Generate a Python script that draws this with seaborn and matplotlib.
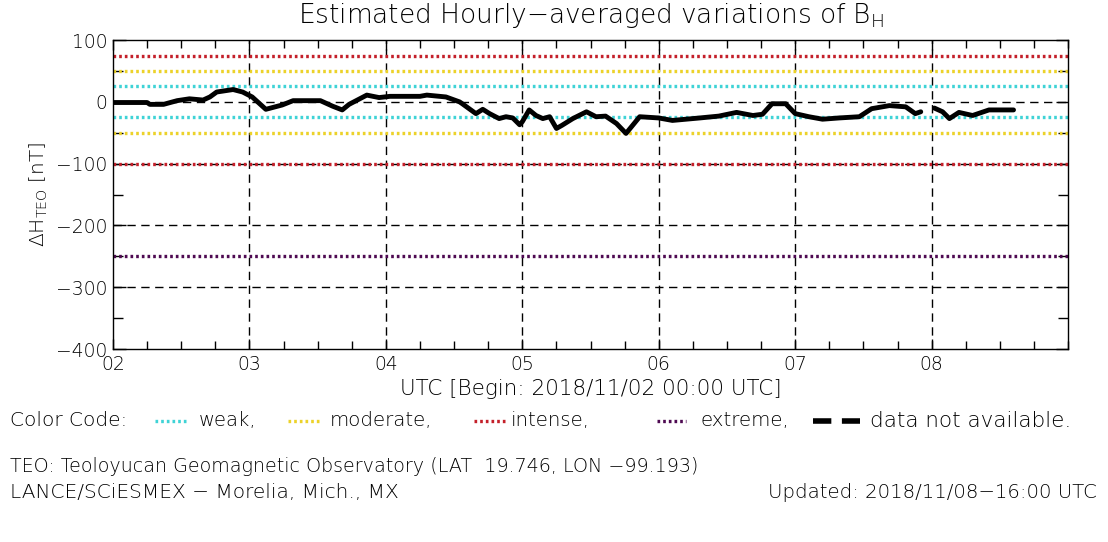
import matplotlib
matplotlib.use("Agg")
import matplotlib.pyplot as plt
from matplotlib.lines import Line2D
from matplotlib.ticker import MultipleLocator, FixedLocator
import pandas as pd
import seaborn as sns

# time in days of November 2018 (UTC), hourly-averaged Delta H at TEO [nT]
day_a = [2.00, 2.25, 2.27, 2.37, 2.47, 2.56, 2.66, 2.71, 2.76, 2.88, 2.95, 3.02,
         3.12, 3.24, 3.32, 3.52, 3.61, 3.68, 3.73, 3.86, 3.95, 4.03, 4.25, 4.30,
         4.44, 4.54, 4.56, 4.66, 4.71, 4.76, 4.83, 4.88, 4.93, 4.98, 5.00, 5.05,
         5.10, 5.15, 5.20, 5.25, 5.29, 5.37, 5.47, 5.54, 5.61, 5.69, 5.76, 5.86,
         6.00, 6.10, 6.30, 6.44, 6.57, 6.69, 6.76, 6.83, 6.93, 7.00, 7.10, 7.20,
         7.32, 7.47, 7.56, 7.69, 7.81, 7.88, 7.92]
dh_a = [-1, -1, -4, -4, 2, 5, 3, 8, 16, 20, 16, 8,
        -12, -5, 2, 2, -7, -13, -4, 11, 7, 9, 9, 11,
        8, 0, -3, -19, -12, -19, -27, -24, -26, -37, -32, -13,
        -22, -27, -24, -43, -38, -27, -16, -24, -23, -35, -51, -24,
        -26, -30, -26, -23, -17, -22, -20, -3, -3, -19, -24, -28,
        -26, -24, -11, -6, -8, -19, -16]
# after the data gap
day_b = [8.02, 8.08, 8.13, 8.20, 8.30, 8.42, 8.60]
dh_b = [-10, -16, -27, -17, -22, -13, -13]

# storm level thresholds
level_values = [25, -25, 50, -50, 75, -100, -250]
level_names = ["weak", "weak", "moderate", "moderate", "intense", "intense", "extreme"]
level_colors = {"weak": "#3fd3d6", "moderate": "#ecd22a", "intense": "#c4202a", "extreme": "#4e0a52"}

day_ticks = [2, 3, 4, 5, 6, 7, 8]
day_labels = ["02", "03", "04", "05", "06", "07", "08"]

df = pd.DataFrame({
    "day": day_a + day_b,
    "dh": dh_a + dh_b,
    "segment": [0] * len(day_a) + [1] * len(day_b),
})

sns.set_style("ticks")
plt.rcParams["font.family"] = ["DejaVu Sans"]
plt.rcParams["font.weight"] = "light"
plt.rcParams["text.color"] = "black"
plt.rcParams["axes.labelcolor"] = "black"
plt.rcParams["axes.titleweight"] = "light"
plt.rcParams["axes.labelweight"] = "light"

fig = plt.figure(figsize=(11.08, 5.42), dpi=100)
ax = fig.add_axes([0.102, 0.356, 0.862, 0.570])

dots = (0, (0.8, 0.9))
for val, name in zip(level_values, level_names):
    ax.axhline(val, color=level_colors[name], lw=2.4, ls=dots, zorder=1)

grid_kw = dict(color="black", lw=1, ls=(0, (6, 4)), zorder=0.5)
for yv in [0, -100, -200, -300]:
    ax.axhline(yv, **grid_kw)
for xv in day_ticks[1:]:
    ax.axvline(xv, **grid_kw)

sns.lineplot(data=df, x="day", y="dh", units="segment", estimator=None,
             color="black", lw=3.5, ax=ax, zorder=3, sort=False)

ax.set_xlim(2, 9)
ax.set_ylim(-400, 100)
ax.xaxis.set_major_locator(FixedLocator(day_ticks))
ax.set_xticklabels(day_labels)
ax.xaxis.set_minor_locator(MultipleLocator(0.25))
ax.yaxis.set_major_locator(MultipleLocator(100))
ax.yaxis.set_minor_locator(MultipleLocator(50))
ax.tick_params(which="both", direction="in", top=True, right=True, width=1,
               labelsize=13.5, colors="black", labelcolor="black")
ax.tick_params(axis="y", which="major", length=9, pad=4)
ax.tick_params(axis="y", which="minor", length=7)
ax.tick_params(axis="x", which="major", length=7, pad=4)
ax.tick_params(axis="x", which="minor", length=6)
for sp in ax.spines.values():
    sp.set_linewidth(1)
    sp.set_color("black")

ax.set_xlabel("UTC [Begin: 2018/11/02 00:00 UTC]", fontsize=15.5, labelpad=4)
ax.set_ylabel(r"$\Delta\mathregular{H_{TEO}}$ [nT]", fontsize=14.5, labelpad=4)
ax.set_title(r"Estimated Hourly$-$averaged variations of $\mathregular{B_H}$",
             fontsize=19, pad=12)

# colour code row
W, H = 1108, 542
yc = 1 - 421 / H
fig.text(10 / W, yc, "Color Code:", fontsize=14.5, va="center")
legend_items = [
    ("weak", 155, 187, "weak,", 199, 14),
    ("moderate", 288, 319, "moderate,", 330, 14.2),
    ("intense", 474, 506, "intense,", 511, 14.2),
    ("extreme", 657, 686, "extreme,", 700, 14.2),
]
for name, x0, x1, label, xt, fs in legend_items:
    fig.add_artist(Line2D([x0 / W, x1 / W], [yc, yc], color=level_colors[name],
                          lw=2.4, ls=dots, transform=fig.transFigure))
    fig.text(xt / W, yc, label, fontsize=fs, va="center")
fig.add_artist(Line2D([813 / W, 860 / W], [yc, yc], color="black",
                      lw=4, ls=(0, (3.3, 1.9)), transform=fig.transFigure))
fig.text(870 / W, yc, "data not available.", fontsize=15.5, va="center")

fig.text(10 / W, 1 - 467 / H,
         "TEO: Teoloyucan Geomagnetic Observatory (LAT  19.746, LON \u221299.193)",
         fontsize=13.8, va="center")
fig.text(10 / W, 1 - 493 / H, "LANCE/SCiESMEX \u2212 Morelia, Mich., MX",
         fontsize=14.5, va="center")
fig.text(1097 / W, 1 - 493 / H, "Updated: 2018/11/08\u221216:00 UTC",
         fontsize=14.2, va="center", ha="right")

fig.savefig("out.png", dpi=100, facecolor="white")
plt.close(fig)
